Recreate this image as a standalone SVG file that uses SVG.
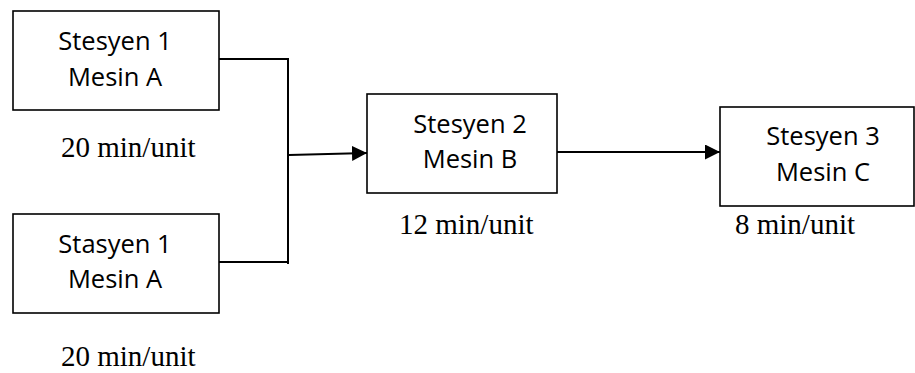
<svg xmlns="http://www.w3.org/2000/svg" width="915" height="373" viewBox="0 0 915 373">
  <defs>
    <marker id="arrow" viewBox="0 0 10 10" refX="10" refY="5" markerWidth="15" markerHeight="15" markerUnits="userSpaceOnUse" orient="auto">
      <path d="M0,0 L10,5 L0,10 Z" fill="#000"/>
    </marker>
  </defs>
  <style>
    .box { fill: #fff; stroke: #000; stroke-width: 1.6; }
    .label { font-family: "Open Sans", "Liberation Sans", sans-serif; font-size: 25.5px; fill: #000; text-anchor: middle; }
    .rate { font-family: "Liberation Serif", "Times New Roman", serif; font-size: 29px; fill: #000; }
    .wire { fill: none; stroke: #000; stroke-width: 2; }
  </style>
  <rect width="915" height="373" fill="#fff"/>

  <g id="connectors">
    <path class="wire" d="M219,59 H288 V264" stroke-width="2.4"/>
    <path class="wire" d="M219,262 H288" stroke-width="2.4"/>
    <path class="wire" d="M289,155 L367,153" marker-end="url(#arrow)"/>
    <path class="wire" d="M557,152 H720" marker-end="url(#arrow)"/>
  </g>

  <g id="station1-top">
    <rect class="box" x="13" y="11" width="206" height="99"/>
    <text class="label" x="115" y="50">Stesyen 1</text>
    <text class="label" x="115" y="86">Mesin A</text>
    <text class="rate" x="61" y="157">20 min/unit</text>
  </g>

  <g id="station1-bottom">
    <rect class="box" x="13" y="214" width="206" height="99"/>
    <text class="label" x="115" y="253">Stasyen 1</text>
    <text class="label" x="115" y="288">Mesin A</text>
    <text class="rate" x="61" y="366">20 min/unit</text>
  </g>

  <g id="station2">
    <rect class="box" x="367" y="94" width="190" height="99"/>
    <text class="label" x="470" y="133">Stesyen 2</text>
    <text class="label" x="470" y="168">Mesin B</text>
    <text class="rate" x="399" y="234">12 min/unit</text>
  </g>

  <g id="station3">
    <rect class="box" x="720" y="107" width="194" height="99"/>
    <text class="label" x="823" y="145">Stesyen 3</text>
    <text class="label" x="823" y="181">Mesin C</text>
    <text class="rate" x="735" y="234">8 min/unit</text>
  </g>
</svg>
